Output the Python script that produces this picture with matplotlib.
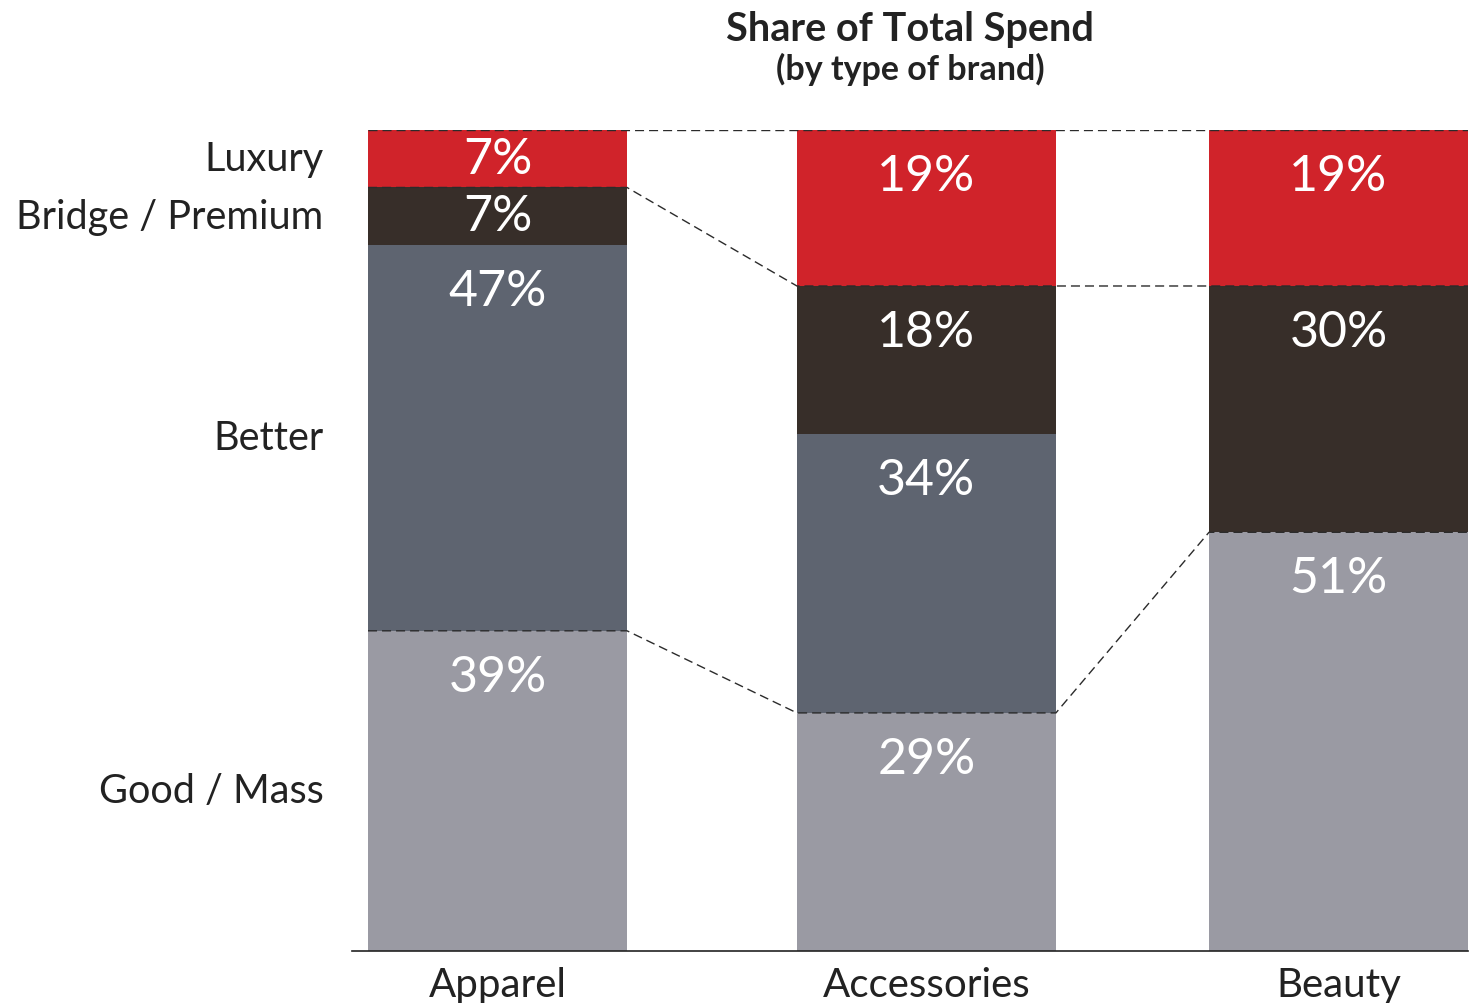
import numpy as np
import matplotlib.pyplot as plt

plt.rcParams['font.family'] = ['Lato', 'DejaVu Sans']

categories = ['Apparel', 'Accessories', 'Beauty']
tiers = ['Good / Mass', 'Better', 'Bridge / Premium', 'Luxury']
good = [39, 29, 51]
better = [47, 34, 0]
bridge = [7, 18, 30]
luxury = [7, 19, 19]

colors = ['#9a9aa3', '#5e6470', '#372e29', '#d0232a']
dash_color = '#2b2b2b'
text_color = '#222222'

values = np.array([good, better, bridge, luxury], dtype=float)
bottoms = np.vstack([np.zeros(3), np.cumsum(values, axis=0)[:-1]])
tops = bottoms + values

# bar centres (uneven spacing), width of one unit
xpos = np.array([0.0, 1.656, 3.247])
w = 1.0

fig = plt.figure(figsize=(14.7, 10.04), dpi=100)
ax = fig.add_axes([352 / 1470, 52 / 1004, 1116 / 1470, 821 / 1004])

for i in range(len(tiers)):
    ax.bar(xpos, values[i], w, bottom=bottoms[i], color=colors[i],
           linewidth=0, zorder=2)

# value labels: small segments centred, others hung from the segment top
for i in range(len(tiers)):
    for j in range(len(categories)):
        v = values[i, j]
        if v <= 0:
            continue
        if v < 10:
            ax.text(xpos[j], bottoms[i, j] + v / 2, f'{v:.0f}%', ha='center',
                    va='center', color='white', fontsize=36, zorder=4)
        else:
            ax.annotate(f'{v:.0f}%', (xpos[j], tops[i, j]), xytext=(0, -33),
                        textcoords='offset points', ha='center', va='center',
                        color='white', fontsize=36, zorder=4)

# dashed guide lines
dash_kw = dict(color=dash_color, linewidth=1.0, dashes=(6.5, 3.6), zorder=3)
left = xpos - w / 2
right = xpos + w / 2

ax.plot([left[0], right[-1]], [100, 100], **dash_kw)

gx = np.ravel(np.column_stack([left, right]))
ax.plot(gx, np.repeat(bottoms[3], 2), **dash_kw)
ax.plot(gx, np.repeat(tops[0], 2), **dash_kw)

# row labels alongside the first bar
for i, name in enumerate(tiers):
    ax.annotate(name, (left[0], bottoms[i, 0] + values[i, 0] / 2),
                xytext=(-32, 0), textcoords='offset points', ha='right',
                va='center', fontsize=28.5, color=text_color,
                annotation_clip=False)

ax.set_xlim(left[0] - 16 / 259, right[-1])
ax.set_ylim(0, 100)
ax.set_xticks(xpos)
ax.set_xticklabels(categories, fontsize=29, color=text_color)
ax.tick_params(axis='x', length=0, pad=11)
ax.set_yticks([])
for s in ['top', 'right', 'left']:
    ax.spines[s].set_visible(False)
ax.spines['bottom'].set_color(text_color)
ax.spines['bottom'].set_linewidth(1.2)

cx = (352 + 1468) / 2 / 1470
fig.text(cx, 1 - 30 / 1004, 'Share of Total Spend', ha='center', va='center',
         fontsize=28.5, fontweight='bold', color=text_color)
fig.text(cx, 1 - 69 / 1004, '(by type of brand)', ha='center', va='center',
         fontsize=24.5, fontweight='bold', color=text_color)

fig.savefig('out.png', dpi=100)
